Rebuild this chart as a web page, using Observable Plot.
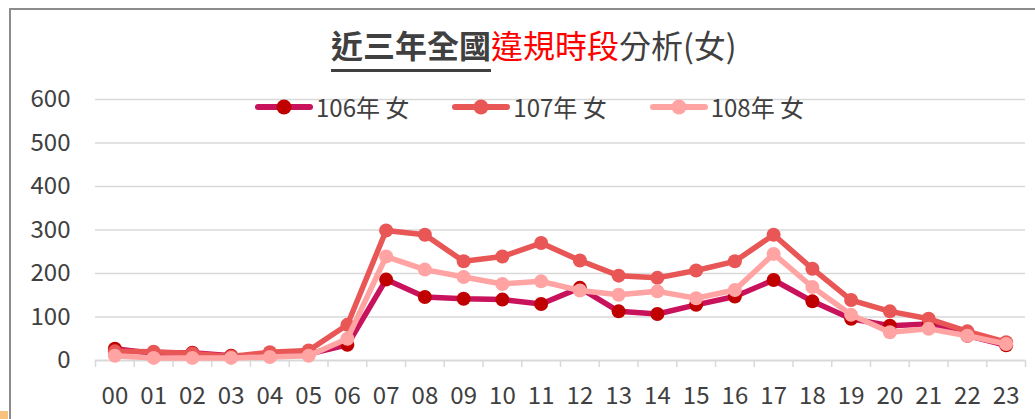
<!DOCTYPE html>
<html>
<head>
<meta charset="utf-8">
<script src="https://cdn.jsdelivr.net/npm/d3@7"></script>
<script src="https://cdn.jsdelivr.net/npm/@observablehq/plot@0.6"></script>
<style>
  html, body { margin: 0; padding: 0; background: #fff; }
  #wrap { position: relative; width: 1035px; height: 419px; overflow: hidden; font-family: "Noto Sans CJK TC", "Noto Sans", sans-serif; }
  #frame { position: absolute; left: 9px; top: 8px; width: 1040px; height: 420px; border-top: 2px solid #8c8c8c; border-left: 2px solid #8c8c8c; box-sizing: border-box; }
  #corner { position: absolute; left: 0; top: 411px; width: 8px; height: 8px; background: #f9c27c; }
  #chart { position: absolute; left: 0; top: 0; }
  #title { position: absolute; left: 331px; top: 25px; font-size: 32px; line-height: 1.2; color: #404040; white-space: nowrap; }
  #title .u { font-weight: 700; text-decoration: underline; text-decoration-thickness: 3px; text-underline-offset: 11px; }
  #title .r { color: #ff0000; }
  #legend { position: absolute; left: 255px; top: 93px; display: flex; gap: 43px; align-items: center; font-size: 24px; color: #404040; line-height: 28px; white-space: nowrap; }
  .item { display: flex; align-items: center; gap: 3px; }
  .item svg { display: block; }
</style>
</head>
<body>
<div id="wrap">
  <div id="frame"></div>
  <div id="corner"></div>
  <div id="chart"></div>
  <div id="title"><span class="u">近三年全國</span><span class="r">違規時段</span>分析(女)</div>
  <div id="legend"></div>
</div>
<script>
const hourLabels = ["00","01","02","03","04","05","06","07","08","09","10","11","12","13","14","15","16","17","18","19","20","21","22","23"];
const seriesNames = ["106年 女", "107年 女", "108年 女"];
const values106 = [27, 16, 18, 11, 10, 15, 36, 186, 146, 142, 140, 130, 167, 113, 107, 128, 147, 185, 136, 96, 80, 84, 57, 35];
const values107 = [21, 20, 16, 9, 19, 23, 82, 299, 289, 228, 239, 270, 230, 195, 190, 207, 228, 289, 211, 139, 113, 96, 67, 42];
const values108 = [11, 6, 6, 6, 8, 11, 50, 239, 209, 192, 176, 182, 161, 151, 159, 143, 162, 245, 169, 105, 65, 73, 57, 38];
const lineColors = ["#c8125c", "#e85656", "#ffa3a3"];
const dotColors = ["#c00000", "#e85656", "#ffa3a3"];
const yTicks = [0, 100, 200, 300, 400, 500, 600];

const allValues = [values106, values107, values108];
const table = allValues.map((vals, s) => vals.map((v, i) => ({ series: seriesNames[s], hour: i, value: v })));
const boundaries = hourLabels.map((_, i) => i - 0.5).concat([hourLabels.length - 0.5]);

const marks = [
  Plot.gridY(yTicks.filter(d => d > 0), { stroke: "#d9d9d9", strokeOpacity: 1, strokeWidth: 1.5 }),
  Plot.ruleY([0], { stroke: "#d9d9d9", strokeWidth: 2 }),
  Plot.axisY({ ticks: yTicks, tickSize: 0, tickPadding: 25, fill: "#404040", fontSize: 24 }),
  Plot.axisX({ ticks: boundaries, tickSize: 7, tickFormat: () => "", stroke: "#d9d9d9", strokeWidth: 1.5 }),
  Plot.axisX({ ticks: hourLabels.map((_, i) => i), tickSize: 0, tickPadding: 26, tickFormat: i => hourLabels[i], fill: "#404040", fontSize: 24 })
];
table.forEach((rows, s) => {
  marks.push(Plot.line(rows, { x: "hour", y: "value", stroke: lineColors[s], strokeWidth: 5.5, strokeLinejoin: "round", strokeLinecap: "round" }));
  marks.push(Plot.dot(rows, { x: "hour", y: "value", r: 7, fill: dotColors[s], stroke: "none" }));
});

const chart = Plot.plot({
  width: 1035,
  height: 419,
  marginLeft: 95,
  marginRight: 10,
  marginTop: 99,
  marginBottom: 59,
  style: { fontFamily: "'Noto Sans CJK TC', 'Noto Sans', sans-serif", fontSize: "24px", background: "transparent", overflow: "visible" },
  x: { type: "linear", domain: [-0.5, hourLabels.length - 0.5], label: null, axis: null },
  y: { domain: [0, 600], label: null, axis: null },
  marks
});
document.getElementById("chart").appendChild(chart);

const legend = document.getElementById("legend");
seriesNames.forEach((name, s) => {
  const item = document.createElement("div");
  item.className = "item";
  item.innerHTML = `<svg width="58" height="18"><line x1="3" y1="9" x2="55" y2="9" stroke="${lineColors[s]}" stroke-width="6" stroke-linecap="round"/><circle cx="29" cy="9" r="7.5" fill="${dotColors[s]}"/></svg><span>${name}</span>`;
  legend.appendChild(item);
});
</script>
</body>
</html>
